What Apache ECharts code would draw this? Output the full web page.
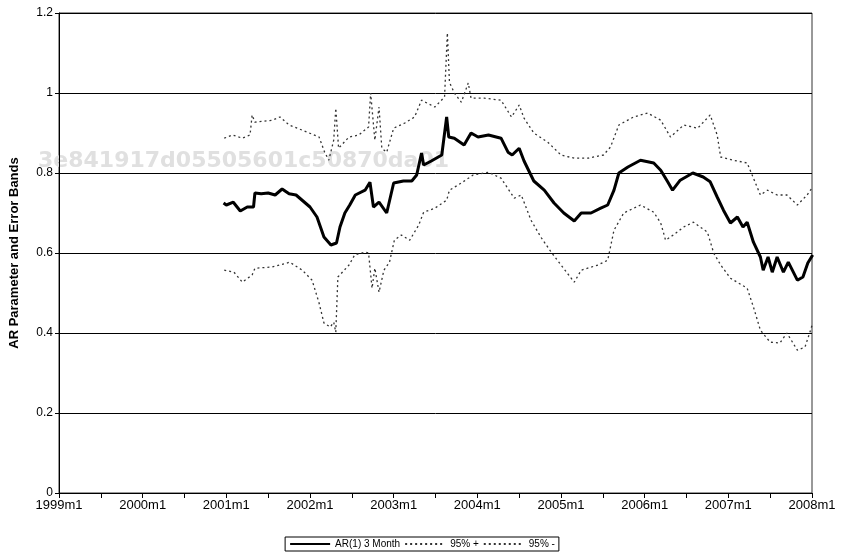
<!DOCTYPE html>
<html><head><meta charset="utf-8">
<script src="https://cdn.jsdelivr.net/npm/echarts@6/dist/echarts.min.js"></script>
<style>html,body{margin:0;padding:0;background:#fff}#c{width:844px;height:553px}</style>
</head><body><div id="c"></div>
<script>
// months since 1999m1
const yearLabels = ['1999m1','2000m1','2001m1','2002m1','2003m1','2004m1','2005m1','2006m1','2007m1','2008m1'];
const arMonths = [23.6,24,25,26,27,27.9,28.1,29,30,31,32,33,34,35,36,37,38,39,39.8,40.3,41,41.7,42.5,43.9,44.6,45.1,45.9,47,48,49.4,50.6,51.3,52,52.3,53.4,54.9,55.6,55.9,56.7,58.1,59.1,60.1,61.6,63.4,64.4,65,66,66.7,68.1,69.6,71,72.4,73.9,74.9,76.3,77.7,78.7,79.6,80.3,81.6,83.4,85.3,86.3,87.3,88,89.1,90.9,92.4,93.4,94.4,95.3,96.3,97.3,98.1,98.7,99.6,100.6,101,101.7,102.3,103,103.9,104.6,105.9,106.7,107.4,108.1];
const arValues = [.725,.72,.727,.705,.715,.715,.75,.748,.75,.745,.76,.748,.745,.73,.715,.69,.64,.62,.625,.665,.70,.72,.745,.757,.777,.715,.727,.70,.775,.78,.78,.795,.85,.82,.83,.845,.94,.89,.887,.87,.90,.89,.895,.887,.852,.845,.862,.83,.78,.757,.725,.70,.68,.70,.70,.712,.72,.757,.80,.815,.832,.825,.807,.778,.757,.782,.80,.79,.778,.74,.707,.675,.69,.665,.677,.627,.59,.557,.59,.552,.59,.552,.577,.532,.54,.575,.595];
const upMonths = [23.7,24.9,26.3,27.4,27.7,28.1,30.6,31.7,33,34.9,37.3,38.1,38.7,39.4,39.7,40.1,41.6,43,44.4,44.7,45.3,45.9,46.3,47,48,49.6,51,52,53.9,55.3,55.7,56,56.7,57.7,58.7,59.1,61,63.4,64.9,66,66.7,68.1,70.1,72,73.9,75.9,78.1,79.1,80.3,82.4,84.4,86.3,87.7,89.6,91.6,93.4,94.4,94.9,96.7,98.7,99.6,100.6,101.6,103,104.4,105.9,107.3,108.1];
const upValues = [.887,.895,.887,.895,.945,.927,.932,.94,.92,.907,.89,.852,.832,.882,.962,.862,.89,.895,.915,1.0,.882,.965,.862,.852,.912,.925,.94,.982,.965,.99,1.15,1.027,1.0,.977,1.025,.987,.987,.982,.94,.97,.937,.90,.877,.845,.837,.837,.845,.865,.92,.94,.95,.932,.89,.92,.912,.945,.895,.84,.832,.825,.787,.745,.757,.745,.745,.72,.745,.765];
const loMonths = [23.7,25.1,26.3,27.7,28.1,30.6,33.1,34.9,36.3,37.3,38,38.9,39.4,39.7,40,41.6,42.4,43.9,44.4,44.9,45.3,45.9,46.6,47.4,48.1,49.1,50.3,51.6,52.3,53.9,55.6,56,57.7,59.4,61.6,63.4,65.3,66.3,67.7,69.1,70.6,72,73.9,74.9,77.3,78.7,79.6,81,83.4,85.3,86.3,87,88.1,89.6,91,93,93.9,94.9,96.3,98.7,99.6,100.6,102,103.4,104.4,105.9,107,107.7,108.1];
const loValues = [.557,.552,.527,.545,.562,.565,.577,.557,.532,.475,.425,.415,.427,.402,.54,.57,.595,.602,.60,.512,.562,.502,.557,.577,.632,.645,.632,.67,.702,.712,.732,.757,.775,.795,.802,.787,.737,.745,.682,.64,.602,.57,.527,.557,.57,.582,.657,.70,.72,.702,.675,.632,.645,.665,.677,.652,.60,.57,.537,.512,.465,.407,.377,.375,.40,.357,.365,.402,.425];
const zip = (a,b) => a.map((m,i)=>[m,b[i]]);
const chart = echarts.init(document.getElementById('c'));
const band = {type:[2,3], width:1.3, color:'#333'};
chart.setOption({
  animation:false,
  graphic:[{type:'text', left:38, top:150, z:0, style:{text:'3e841917d05505601c50870da01', fill:'#e0e0e0', font:'bold 22px "DejaVu Sans"'}}],
  grid:{left:56, right:32, top:13, bottom:60, show:true, borderColor:'#333', borderWidth:1},
  legend:{bottom:2, left:'center', itemGap:4, itemWidth:40, itemHeight:8, borderColor:'#000', borderWidth:1, padding:[2,4],
    itemStyle:{opacity:0},
    textStyle:{fontFamily:'Liberation Sans', fontSize:10, color:'#000'},
    data:['AR(1) 3 Month','95% +','95% -']},
  xAxis:{type:'value', min:0, max:108, interval:6,
    axisLine:{lineStyle:{color:'#000'}}, axisTick:{inside:false, length:5, lineStyle:{color:'#000'}},
    splitLine:{show:false},
    axisLabel:{color:'#000', fontFamily:'Liberation Sans Narrow, Liberation Sans', fontSize:13, margin:6, showMaxLabel:true,
      formatter:v=> v%12===0 ? yearLabels[v/12] : ''}},
  yAxis:{type:'value', min:0, max:1.2, interval:0.2,
    name:'AR Parameter and Error Bands', nameLocation:'middle', nameGap:38,
    nameTextStyle:{fontFamily:'Liberation Sans', fontWeight:'bold', fontSize:13, color:'#000'},
    axisLine:{show:true, lineStyle:{color:'#000'}}, axisTick:{show:true, length:4, lineStyle:{color:'#000'}},
    splitLine:{lineStyle:{color:'#000', width:1}},
    axisLabel:{color:'#000', fontFamily:'Liberation Sans', fontSize:12, margin:6, formatter:v=>String(+v.toFixed(1))}},
  series:[
    {name:'AR(1) 3 Month', type:'line', symbol:'none', data:zip(arMonths,arValues), lineStyle:{color:'#000', width:3}, itemStyle:{color:'#000'}, z:5},
    {name:'95% +', type:'line', symbol:'none', data:zip(upMonths,upValues), lineStyle:band, itemStyle:{color:'#333'}},
    {name:'95% -', type:'line', symbol:'none', data:zip(loMonths,loValues), lineStyle:band, itemStyle:{color:'#333'}}
  ]
});
</script></body></html>
